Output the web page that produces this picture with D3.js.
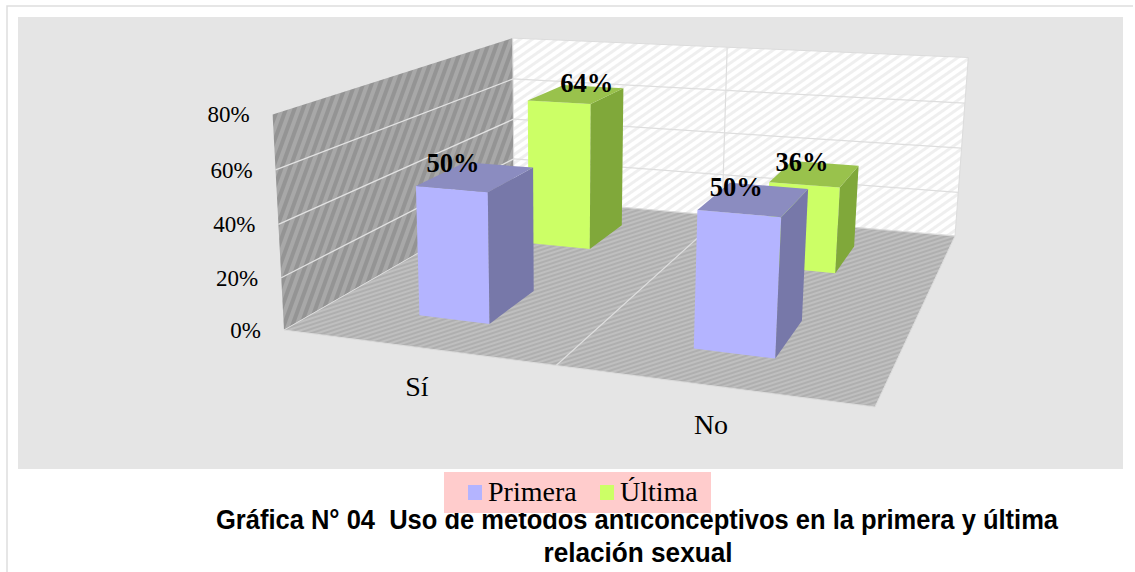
<!DOCTYPE html>
<html>
<head>
<meta charset="utf-8">
<script src="https://cdn.jsdelivr.net/npm/d3@7"></script>
<style>
  html, body { margin: 0; padding: 0; background: #fff; overflow: hidden; }
  text { font-family: "Liberation Serif", serif; fill: #000; }
</style>
</head>
<body>
<div id="chart"></div>
<script>
// data
var categories = ["Sí", "No"];
var seriesNames = ["Primera", "Última"];
var primera = [50, 50];
var ultima = [64, 36];
var yTicks = [0, 20, 40, 60, 80];

var seriesColors = {
    "Primera": {front: "#b4b4ff", side: "#7778a9", top: "#8b8cc0"},
    "Última": {front: "#ccff66", side: "#80a83a", top: "#99c24c"}
};

// the value labels sit off the bar tops, by a different amount on each bar
var labelShift = {
    "Sí|Primera": [-23, -5], "Sí|Última": [10, -2],
    "No|Primera": [-18, -3], "No|Última": [-13, -3]
};

var width = 1135, height = 572;

var svg = d3.select("#chart").append("svg")
    .attr("width", width).attr("height", height);

// hatches of the walls and the floor
var defs = svg.append("defs");
function hatch(id, size, angle, bg, fg, sw) {
    var p = defs.append("pattern").attr("id", id)
        .attr("patternUnits", "userSpaceOnUse")
        .attr("width", size).attr("height", size)
        .attr("patternTransform", "rotate(" + angle + ")");
    p.append("rect").attr("width", size).attr("height", size).attr("fill", bg);
    p.append("rect").attr("width", sw).attr("height", size).attr("fill", fg);
}
hatch("hLeft", 8, 20, "#a8a8a8", "#949494", 4);
hatch("hFloor", 4, 72, "#bfbfbf", "#afafaf", 2);
hatch("hBack", 7, 55, "#ffffff", "#efefef", 3);

// frame and chart area
svg.append("path").attr("d", "M7,572V6H1133").attr("fill", "none")
    .attr("stroke", "#dedede").attr("stroke-width", 1.5);
svg.append("rect").attr("x", 18).attr("y", 17).attr("width", 1105).attr("height", 452)
    .attr("fill", "#e5e5e5");

// projection: (u along categories, v depth, h height) all 0..1
var floorQuad = [[284, 330], [875, 407], [955, 236], [514, 198]];
var wallTops = [[271, 114, 0, 0], [515, 37, 0, 1], [967, 59, 1, 1]];

function makeProjection(q, tops) {
    var dx1 = q[1][0] - q[2][0], dx2 = q[3][0] - q[2][0], dx3 = q[0][0] - q[1][0] + q[2][0] - q[3][0];
    var dy1 = q[1][1] - q[2][1], dy2 = q[3][1] - q[2][1], dy3 = q[0][1] - q[1][1] + q[2][1] - q[3][1];
    var den = dx1 * dy2 - dx2 * dy1;
    var g = (dx3 * dy2 - dx2 * dy3) / den, h = (dx1 * dy3 - dx3 * dy1) / den;
    var a = q[1][0] - q[0][0] + g * q[1][0], b = q[3][0] - q[0][0] + h * q[3][0], c = q[0][0];
    var d = q[1][1] - q[0][1] + g * q[1][1], e = q[3][1] - q[0][1] + h * q[3][1], f = q[0][1];
    function base(u, v) { return [a * u + b * v + c, d * u + e * v + f, g * u + h * v + 1]; }

    // height column from the known top corners of the walls
    var rows = tops.map(function(t) {
        var F = base(t[2], t[3]);
        return {x: t[0], y: t[1], kx: t[0] * F[2] - F[0], ky: t[1] * F[2] - F[1]};
    });
    var c3 = (rows[2].kx - rows[0].kx) / (rows[0].x - rows[2].x);
    var c1 = d3.mean(rows, function(r) { return r.kx + r.x * c3; });
    var c2 = d3.mean(rows, function(r) { return r.ky + r.y * c3; });

    return function(u, v, w) {
        var F = base(u, v);
        var W = F[2] + c3 * w;
        return [(F[0] + c1 * w) / W, (F[1] + c2 * w) / W];
    };
}
var project = makeProjection(floorQuad, wallTops);

var yScale = d3.scaleLinear().domain([0, 80]).range([0, 1]);
var catScale = d3.scaleBand().domain(categories).range([0, 1]).paddingInner(0.73).paddingOuter(0.365);
var depthScale = d3.scaleBand().domain(seriesNames).range([0, 1]).paddingInner(0.6).paddingOuter(0.3);

function poly(pts) { return "M" + pts.map(function(p) { return p[0].toFixed(1) + "," + p[1].toFixed(1); }).join("L") + "Z"; }

// walls and floor
svg.append("path").attr("d", poly([project(0,0,0), project(0,1,0), project(0,1,1), project(0,0,1)])).attr("fill", "url(#hLeft)");
svg.append("path").attr("d", poly([project(0,1,0), project(1,1,0), project(1,1,1), project(0,1,1)])).attr("fill", "url(#hBack)").attr("stroke", "#dcdcdc");
svg.append("path").attr("d", poly([project(0,0,0), project(1,0,0), project(1,1,0), project(0,1,0)])).attr("fill", "url(#hFloor)").attr("stroke", "#dcdcdc");

// gridlines
var grid = svg.append("g").attr("fill", "none");
yTicks.slice(1, -1).forEach(function(t) {
    var h = yScale(t);
    grid.append("path").attr("d", d3.line()([project(0,0,h), project(0,1,h)])).attr("stroke", "#e2e2e2").attr("stroke-width", 1.3);
    grid.append("path").attr("d", d3.line()([project(0,1,h), project(1,1,h)])).attr("stroke", "#dedede").attr("stroke-width", 1.3);
});
grid.append("path").attr("d", d3.line()([project(0.5,0,0), project(0.5,1,0), project(0.5,1,1)])).attr("stroke", "#dedede").attr("stroke-width", 1.2);

// y axis labels
svg.append("g").selectAll("text").data(yTicks).enter().append("text")
    .attr("text-anchor", "end")
    .attr("x", function(d) { return project(0, 0, yScale(d))[0] - 23; })
    .attr("y", function(d) { return project(0, 0, yScale(d))[1] + 8; })
    .attr("font-size", 23)
    .text(function(d) { return d + "%"; });

// category labels
svg.append("g").selectAll("text").data(categories).enter().append("text")
    .attr("text-anchor", "middle")
    .attr("x", function(d) { return project(catScale(d) + catScale.bandwidth() / 2, 0, 0)[0] + 2; })
    .attr("y", function(d) { return project(catScale(d) + catScale.bandwidth() / 2, 0, 0)[1] + 48.5; })
    .attr("font-size", 28)
    .text(function(d) { return d; });

// bars, back series first so the front ones cover them
var bars = [];
categories.forEach(function(c, i) {
    bars.push({cat: c, series: "Última", value: ultima[i]});
    bars.push({cat: c, series: "Primera", value: primera[i]});
});

var barG = svg.append("g").selectAll("g").data(bars).enter().append("g");
function corners(d) {
    var u0 = catScale(d.cat), u1 = u0 + catScale.bandwidth();
    var v0 = depthScale(d.series), v1 = v0 + depthScale.bandwidth();
    return {u0: u0, u1: u1, v0: v0, v1: v1, h: yScale(d.value)};
}
barG.append("path").attr("fill", function(d) { return seriesColors[d.series].front; })
    .attr("d", function(d) { var k = corners(d); return poly([project(k.u0,k.v0,0), project(k.u1,k.v0,0), project(k.u1,k.v0,k.h), project(k.u0,k.v0,k.h)]); });
barG.append("path").attr("fill", function(d) { return seriesColors[d.series].side; })
    .attr("d", function(d) { var k = corners(d); return poly([project(k.u1,k.v0,0), project(k.u1,k.v1,0), project(k.u1,k.v1,k.h), project(k.u1,k.v0,k.h)]); });
barG.append("path").attr("fill", function(d) { return seriesColors[d.series].top; })
    .attr("d", function(d) { var k = corners(d); return poly([project(k.u0,k.v0,k.h), project(k.u1,k.v0,k.h), project(k.u1,k.v1,k.h), project(k.u0,k.v1,k.h)]); });

// value labels
svg.append("g").selectAll("text").data(bars).enter().append("text")
    .attr("text-anchor", "middle")
    .attr("font-size", 26.5).attr("font-weight", "bold")
    .attr("x", function(d) { var k = corners(d); return project((k.u0+k.u1)/2, (k.v0+k.v1)/2, k.h)[0] + labelShift[d.cat + "|" + d.series][0]; })
    .attr("y", function(d) { var k = corners(d); return project((k.u0+k.u1)/2, (k.v0+k.v1)/2, k.h)[1] + labelShift[d.cat + "|" + d.series][1]; })
    .text(function(d) { return d.value + "%"; });

// title, the legend box sits over it
var title = svg.append("g").attr("text-anchor", "middle").attr("font-weight", "bold").attr("font-size", 27)
    .style("font-family", "'Liberation Sans', sans-serif");
title.append("text").attr("x", 637).attr("y", 529).style("font-family", "inherit").style("white-space", "pre")
    .attr("textLength", 842).attr("lengthAdjust", "spacingAndGlyphs")
    .text("Gráfica N° 04  Uso de métodos anticonceptivos en la primera y última");
title.append("text").attr("x", 638).attr("y", 562).style("font-family", "inherit")
    .attr("textLength", 189).attr("lengthAdjust", "spacingAndGlyphs")
    .text("relación sexual");

// legend
svg.append("rect").attr("x", 444).attr("y", 472).attr("width", 267).attr("height", 41).attr("fill", "#ffcccc");
var legendX = d3.scaleOrdinal().domain(seriesNames).range([468, 600]);
var leg = svg.append("g").selectAll("g").data(seriesNames).enter().append("g")
    .attr("transform", function(d) { return "translate(" + legendX(d) + ",0)"; });
leg.append("rect").attr("y", 485).attr("width", 14).attr("height", 15)
    .attr("fill", function(d) { return seriesColors[d].front; });
leg.append("text").attr("x", 20).attr("y", 501).attr("font-size", 28).text(function(d) { return d; });
</script>
</body>
</html>
